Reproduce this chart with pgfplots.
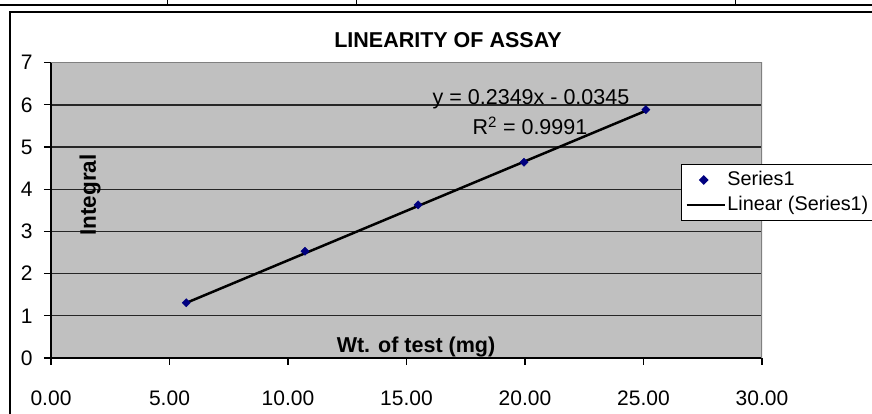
\documentclass[border=0pt]{standalone}
\usepackage{pgfplots}
\pgfplotsset{compat=1.18}
\usepackage{fontspec}
\setmainfont{Liberation Sans}
\definecolor{plotgray}{HTML}{C0C0C0}
\definecolor{navyblue}{HTML}{000080}
\definecolor{bordergray}{HTML}{808080}
\pgfplotsset{
  marklegend/.style={legend image code/.code={\draw[mark repeat=2,mark phase=2,##1] plot coordinates {(0pt,0pt)(17pt,0pt)(38pt,0pt)};}},
  linelegend/.style={legend image code/.code={\draw[##1] (0pt,0pt) -- (38pt,0pt);}},
}
\begin{document}
\begin{tikzpicture}[x=1pt,y=1pt]
\useasboundingbox (0,0) rectangle (872,414);
% clipped table lines at top
\draw[line width=1.6pt] (0,409) -- (872,409);
\foreach \xx in {167,356,735} \draw[line width=1pt] (\xx,409) -- (\xx,416);
% chart frame
\draw[line width=1.6pt] (10,-10) -- (10,402) -- (890,402);
\begin{axis}[
  at={(51pt,56pt)}, anchor=south west,
  scale only axis, width=711pt, height=295.3pt,
  xmin=0, xmax=30, ymin=0, ymax=7,
  xtick={0,5,...,30}, ytick={0,...,7},
  axis background/.style={fill=plotgray},
  axis x line*=bottom, axis y line*=left,
  axis line style={line width=1.4pt, -},
  ymajorgrids, major grid style={black!85, line width=1.3pt},
  tick align=outside, major tick length=7pt,
  tick style={black, line width=1.2pt},
  xticklabel style={font=\fontsize{21}{25}\selectfont, yshift=-22pt,
    /pgf/number format/.cd, fixed, fixed zerofill, precision=2, assume math mode=true},
  yticklabel style={font=\fontsize{21}{25}\selectfont, xshift=-8pt,
    /pgf/number format/assume math mode=true},
  legend style={at={(axis description cs:0.886,0.657)}, anchor=north west,
    draw=black, line width=1pt, fill=white,
    font=\fontsize{19.8}{24}\selectfont,
    inner xsep=4pt, inner ysep=6pt, row sep=6pt,
    nodes={inner xsep=1.5pt, inner ysep=0pt, text height=15pt, text depth=4pt}},
  legend cell align=left,
]
\addplot[only marks, mark=square*, mark size=2.9pt,
  mark options={rotate=45, fill=navyblue, draw=navyblue}, marklegend]
  coordinates {(5.71,1.31) (10.72,2.53) (15.49,3.63) (19.96,4.64) (25.10,5.89)};
\addlegendentry{Series1}
\addplot[black, line width=2.5pt, no marks, linelegend]
  coordinates {(5.71,1.307) (25.10,5.861)};
\addlegendentry{Linear (Series1)\hspace*{12pt}}
\draw[bordergray, line width=1.3pt] (rel axis cs:0,1) -- (rel axis cs:1,1) -- (rel axis cs:1,0);
\end{axis}
\node[font=\bfseries\fontsize{21.5}{25}\selectfont] at (448,374) {LINEARITY OF ASSAY};
\node[font=\bfseries\fontsize{22.5}{25}\selectfont, rotate=90] at (90,219) {Integral};
\node[font=\bfseries\fontsize{21.5}{25}\selectfont, anchor=base] at (416,61) {Wt. of test (mg)};
\node[font=\fontsize{21.5}{25}\selectfont, anchor=base, inner sep=0pt] at (531,309) {y = 0.2349x - 0.0345};
\node[font=\fontsize{21.5}{25}\selectfont, anchor=base, inner sep=0pt] at (530,279) {R\textsuperscript{2} = 0.9991};
\end{tikzpicture}
\end{document}
